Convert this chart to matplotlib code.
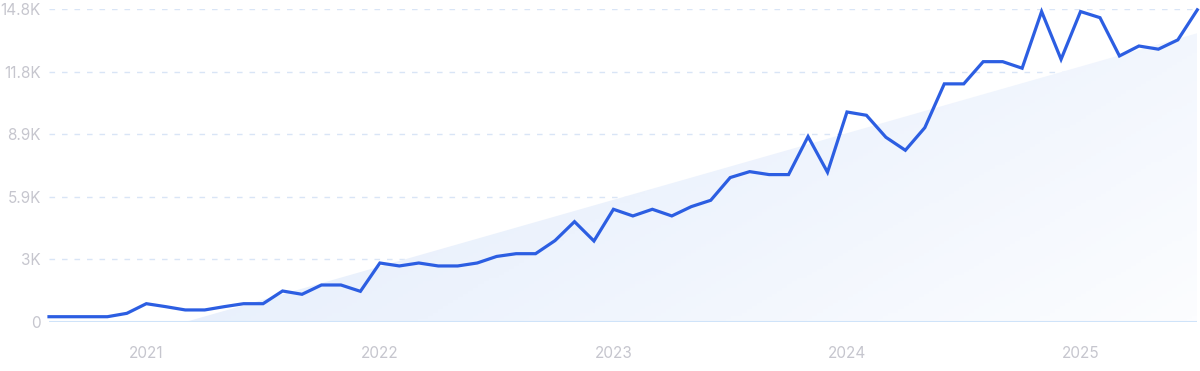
import numpy as np
import matplotlib
matplotlib.use('Agg')
import matplotlib.pyplot as plt
from matplotlib.patches import Polygon
from matplotlib.colors import LinearSegmentedColormap

## data
# monthly values, Aug 2020 .. Jul 2025
values = [250, 250, 250, 250, 410, 866, 725, 570, 570, 725,
          866, 866, 1466, 1310, 1750, 1750, 1450, 2790, 2650, 2790,
          2650, 2650, 2790, 3100, 3230, 3230, 3850, 4745, 3830, 5330,
          5015, 5330, 5015, 5455, 5755, 6830, 7110, 6970, 6970, 8770,
          7080, 9930, 9775, 8735, 8120, 9190, 11260, 11260, 12310, 12310,
          12000, 14680, 12420, 14680, 14390, 12580, 13050, 12900, 13340, 14760]
year_idx = [5, 17, 29, 41, 53]
year_labels = ['2021', '2022', '2023', '2024', '2025']
y_ticks = [0, 2960, 5920, 8880, 11840, 14800]
y_labels = ['0', '3K', '5.9K', '8.9K', '11.8K', '14.8K']
trend_ends = [-1840, 13655]  # trend line value at first and last month

plt.rcParams['font.family'] = ['Inter', 'DejaVu Sans']

x = np.arange(len(values))
fig = plt.figure(figsize=(12, 3.71), dpi=100)
ax = fig.add_axes([49 / 1200, 49 / 371, 1148.3 / 1200, 313 / 371])

# trend area, clipped at zero, gradient fill (darker top-left, fading bottom-right)
x0, x1 = x[0], x[-1]
t0, t1 = trend_ends
xz = x0 - t0 * (x1 - x0) / (t1 - t0)
poly = Polygon([[xz, 0], [x1, t1], [x1, 0]], closed=True, facecolor='none', edgecolor='none')
ax.add_patch(poly)
cmap = LinearSegmentedColormap.from_list('fade', ['#e0ebfb', '#edf3fd', '#fcfdff'])
gx, gy = np.meshgrid(np.linspace(0, 1, 200), np.linspace(0, 1, 100))
grad = 0.65 * gx + 0.35 * gy
im = ax.imshow(grad, cmap=cmap, extent=[xz, x1, 0, y_ticks[-1]], origin='upper',
               aspect='auto', zorder=1, vmin=0, vmax=1)
im.set_clip_path(poly)

# grid lines
for yt in y_ticks[1:]:
    ax.axhline(yt, color='#d9e5f6', lw=1, dashes=(4, 5), zorder=0)
ax.axhline(0, color='#cfe3f9', lw=1.5, zorder=2)

# main line
ax.plot(x, values, color='#2c5ee2', lw=2.3, zorder=3, clip_on=False,
        solid_joinstyle='miter')

ax.set_xlim(x0, x1)
ax.set_ylim(0, y_ticks[-1])
ax.set_xticks(year_idx)
ax.set_xticklabels(year_labels)
ax.set_yticks(y_ticks)
ax.set_yticklabels(y_labels)
ax.tick_params(axis='x', length=0, pad=17, labelsize=11, labelcolor='#c6c6ce')
ax.tick_params(axis='y', length=0, pad=6, labelsize=11, labelcolor='#c6c6ce')
for s in ax.spines.values():
    s.set_visible(False)

fig.savefig('out.png', dpi=100)
